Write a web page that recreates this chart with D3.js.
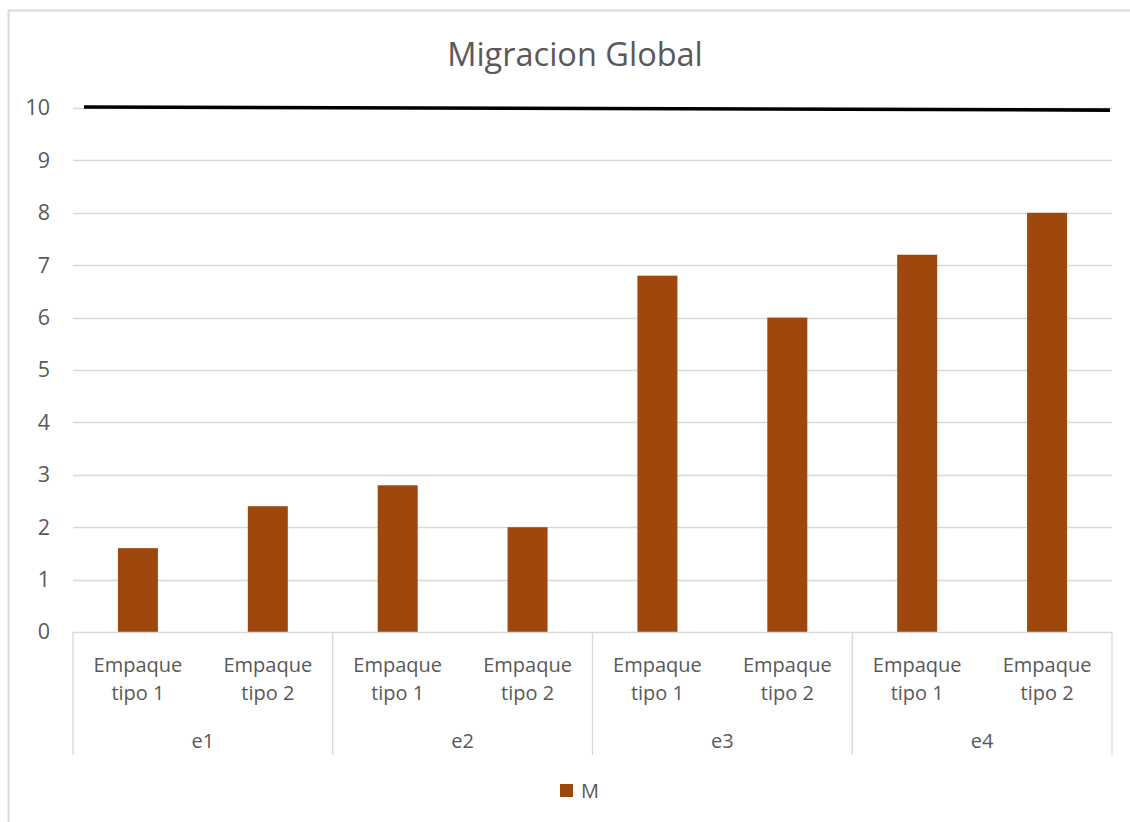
<!DOCTYPE html>
<html>
<head>
<meta charset="utf-8">
<script src="https://cdn.jsdelivr.net/npm/d3@7"></script>
<style>
  html, body { margin: 0; padding: 0; background: #fff; }
  svg { display: block; font-family: "Open Sans", "Noto Sans", sans-serif; }
</style>
</head>
<body>
<svg id="chart" width="1130" height="822"></svg>
<script>
// Chart data
const groups = ["e1", "e2", "e3", "e4"];
const subCategories = ["Empaque tipo 1", "Empaque tipo 2"];
const seriesName = "M";
const seriesValues = [1.6, 2.4, 2.8, 2.0, 6.8, 6.0, 7.2, 8.0];
const yTicks = [0, 1, 2, 3, 4, 5, 6, 7, 8, 9, 10];
// Reference line: value at its left and right ends
const refLineValues = [10.02, 9.96];

const svg = d3.select("#chart");
const W = 1130, H = 822;
const plot = { left: 73, right: 1112, top: 108, bottom: 632 };
const textColor = "#595959";
const gridColor = "#d9d9d9";
const barColor = "#9E480E";

// Chart frame (top and left edges)
svg.append("line").attr("x1", 8).attr("x2", W).attr("y1", 10.5).attr("y2", 10.5)
  .attr("stroke", "#d9d9d9").attr("stroke-width", 2);
svg.append("line").attr("x1", 8.5).attr("x2", 8.5).attr("y1", 10).attr("y2", H)
  .attr("stroke", "#d9d9d9").attr("stroke-width", 2);

// Title
svg.append("text").attr("x", 575).attr("y", 66).attr("text-anchor", "middle")
  .attr("font-size", 32.5).attr("fill", textColor).text("Migracion Global");

// Flattened categories
const cats = [];
groups.forEach(g => subCategories.forEach(s => cats.push(g + "|" + s)));

const x = d3.scaleBand().domain(cats).range([plot.left, plot.right]).paddingInner(0).paddingOuter(0);
const xGroup = d3.scaleBand().domain(groups).range([plot.left, plot.right]);
const y = d3.scaleLinear().domain([0, 10]).range([plot.bottom, plot.top]);

// Gridlines
svg.append("g").selectAll("line").data(yTicks.filter(t => t > 0)).join("line")
  .attr("x1", plot.left).attr("x2", plot.right)
  .attr("y1", d => Math.round(y(d)) + 0.5).attr("y2", d => Math.round(y(d)) + 0.5)
  .attr("stroke", gridColor).attr("stroke-width", 1.3);

// Y axis labels
const yAxis = d3.axisLeft(y).tickValues(yTicks).tickSize(0).tickPadding(0);
const yg = svg.append("g").attr("transform", `translate(50,0)`).call(yAxis);
yg.select(".domain").remove();
yg.attr("font-size", 21.5).attr("font-family", '"Open Sans", sans-serif');
yg.selectAll("text").attr("fill", textColor);

// Bars
const barW = 40;
svg.append("g").selectAll("rect").data(seriesValues).join("rect")
  .attr("x", (d, i) => x(cats[i]) + x.bandwidth() / 2 - barW / 2)
  .attr("width", barW)
  .attr("y", d => y(d))
  .attr("height", d => y(0) - y(d))
  .attr("fill", barColor);

// Category axis: baseline and group separators
svg.append("line").attr("x1", plot.left).attr("x2", plot.right)
  .attr("y1", plot.bottom + 0.5).attr("y2", plot.bottom + 0.5)
  .attr("stroke", gridColor).attr("stroke-width", 1.3);
const sepX = groups.map(g => xGroup(g)).concat([plot.right]);
svg.append("g").selectAll("line").data(sepX).join("line")
  .attr("x1", d => d).attr("x2", d => d)
  .attr("y1", plot.bottom).attr("y2", 755)
  .attr("stroke", gridColor).attr("stroke-width", 1.3);

// Sub-category labels (two lines)
const subLabels = svg.append("g").selectAll("text").data(cats).join("text")
  .attr("x", d => x(d) + x.bandwidth() / 2)
  .attr("text-anchor", "middle").attr("font-size", 20).attr("fill", textColor);
subLabels.each(function (d) {
  const words = d.split("|")[1].split(" ");
  const t = d3.select(this);
  t.append("tspan").attr("x", t.attr("x")).attr("y", 672).text(words[0]);
  t.append("tspan").attr("x", t.attr("x")).attr("y", 700).text(words.slice(1).join(" "));
});

// Group labels
svg.append("g").selectAll("text").data(groups).join("text")
  .attr("x", d => xGroup(d) + xGroup.bandwidth() / 2).attr("y", 748)
  .attr("text-anchor", "middle").attr("font-size", 20).attr("fill", textColor)
  .text(d => d);

// Reference line near the top
const xLine = d3.scaleLinear().domain([0, 1]).range([84, 1110]);
const lineGen = d3.line().x((d, i) => xLine(i)).y(d => y(d));
svg.append("path").datum(refLineValues).attr("d", lineGen)
  .attr("fill", "none").attr("stroke", "#000").attr("stroke-width", 3.6);

// Legend
const lg = svg.append("g").attr("transform", "translate(560,784)");
lg.append("rect").attr("width", 13).attr("height", 13).attr("fill", barColor);
lg.append("text").attr("x", 21).attr("y", 14).attr("font-size", 20).attr("fill", textColor).text(seriesName);
</script>
</body>
</html>
